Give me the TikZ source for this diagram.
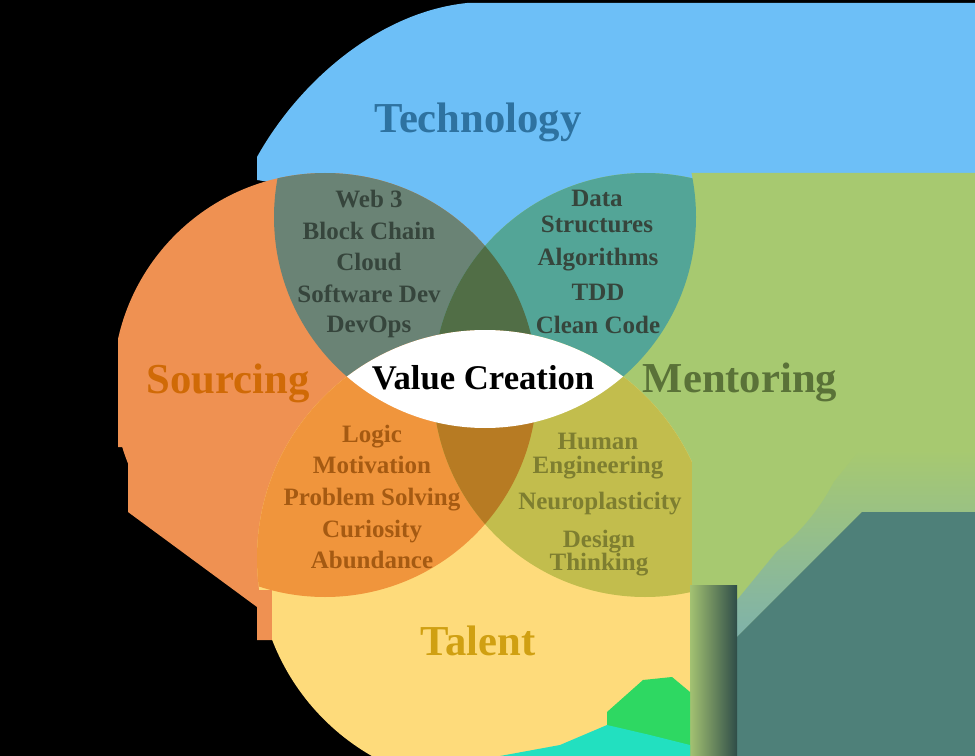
\documentclass[tikz,border=0pt]{standalone}
\usepackage{fontspec}
\setmainfont{Liberation Serif}
\definecolor{techblue}{HTML}{6DBFF7}
\definecolor{srcorange}{HTML}{EF9152}
\definecolor{mentgreen}{HTML}{A7C970}
\definecolor{talyellow}{HTML}{FEDB7B}
\definecolor{techsrc}{HTML}{6A8375}
\definecolor{techment}{HTML}{53A597}
\definecolor{srctal}{HTML}{F0953C}
\definecolor{menttal}{HTML}{C2BD4D}
\definecolor{topmix}{HTML}{516E46}
\definecolor{botmix}{HTML}{B77B23}
\definecolor{techtext}{HTML}{2E72A0}
\definecolor{srctext}{HTML}{D06A06}
\definecolor{menttext}{HTML}{5A7238}
\definecolor{taltext}{HTML}{D0A012}
\definecolor{upptext}{HTML}{36453C}
\definecolor{lowltext}{HTML}{A55A12}
\definecolor{lowrtext}{HTML}{7E7E30}
\definecolor{artteal}{HTML}{4E8079}
\definecolor{artlight}{HTML}{7FB2AA}
\definecolor{artgreen}{HTML}{2ED862}
\definecolor{artcyan}{HTML}{22E0C0}
\def\techcircle{(485,217) circle[radius=211]}
\def\srccircle{(325,385) circle[radius=212]}
\def\mentcircle{(645,385) circle[radius=212]}
\def\talcircle{(485,558) circle[radius=228]}
\begin{document}
\begin{tikzpicture}[x=0.75pt,y=-0.75pt,
  title/.style={font=\bfseries\fontsize{32}{38}\selectfont,anchor=base},
  item/.style={font=\bfseries\fontsize{18.75}{22}\selectfont,anchor=base,inner sep=0pt},
  pair/.style={font=\bfseries\fontsize{18.75}{#1}\selectfont,align=center,
    anchor=north,inner sep=0pt}]
\useasboundingbox (0,0) rectangle (975,756);
\fill[black] (0,0) rectangle (975,756);
% outer parts of the blobs
\fill[techblue] (257,180) -- (257,157) .. controls (300,80) and (380,12) .. (467,3)
  -- (975,3) -- (975,173) -- (680,173) -- (485,217) -- cycle;
\fill[srcorange] (118,350) -- (118,447) -- (128,447) -- (128,512) -- (257,607)
  -- (257,640) -- (272,640) -- (272,560) -- (200,400) -- cycle;
\fill[mentgreen] (680,173) -- (975,173) -- (975,512) -- (862,512) -- (737,637)
  -- (737,585) -- (690,585) -- (645,385) -- cycle;
\shade[top color=mentgreen,bottom color=artlight] (862,512) -- (975,512)
  -- (975,450) -- (860,450) -- (737,600) -- (737,637) -- cycle;
\fill[artteal] (737,756) -- (737,637) -- (862,512) -- (975,512) -- (975,756) -- cycle;
% circles
\fill[techblue] \techcircle;
\fill[srcorange] \srccircle;
\fill[mentgreen] \mentcircle;
\fill[talyellow] \talcircle;
\begin{scope}
  \clip \techcircle;
  \fill[techsrc] \srccircle;
  \fill[techment] \mentcircle;
\end{scope}
\begin{scope}
  \clip \talcircle;
  \fill[srctal] \srccircle;
  \fill[menttal] \mentcircle;
\end{scope}
\begin{scope}
  \clip \srccircle;
  \clip \mentcircle;
  \fill[topmix] \techcircle;
  \fill[botmix] \talcircle;
\end{scope}
\begin{scope}
  \clip \techcircle;
  \fill[white] \talcircle;
\end{scope}
% cut edges
\fill[srcorange] (257,590) rectangle (272,640);
\fill[mentgreen] (692,440) rectangle (737,585);
\fill[talyellow] (600,600) -- (690,600) -- (690,700) -- (600,745) -- cycle;
\shade[left color=mentgreen!90!gray,right color=artteal!60!black] (690,585) rectangle (737,756);
\fill[artgreen] (607,712) -- (643,680) -- (672,677) -- (690,692) -- (690,756)
  -- (600,756) -- (607,740) -- cycle;
\fill[artcyan] (500,756) -- (560,745) -- (607,725) -- (650,735) -- (690,745)
  -- (690,756) -- cycle;
\fill[black] (0,0) rectangle (118,756);
% labels
\node[title,techtext] (technology) at (478,133) {Technology};
\node[title,srctext] (sourcing) at (228,393) {Sourcing};
\node[title,menttext] (mentoring) at (740,392) {Mentoring};
\node[title,taltext] (talent) at (478,655) {Talent};
\node[title,font=\bfseries\fontsize{26}{30}\selectfont] (value) at (483,389) {Value Creation};
% technology and sourcing
\node[item,upptext] (web) at (369,208) {Web 3};
\node[item,upptext] (blockchain) at (369,239) {Block Chain};
\node[item,upptext] (cloud) at (369,270) {Cloud};
\node[item,upptext] (softdev) at (369,302) {Software Dev};
\node[item,upptext] (devops) at (369,332) {DevOps};
% technology and mentoring
\node[pair=19.5,upptext] (datastruct) at (597,190) {Data\\Structures};
\node[item,upptext] (algorithms) at (598,266) {Algorithms};
\node[item,upptext] (tdd) at (598,300) {TDD};
\node[item,upptext] (cleancode) at (598,333) {Clean Code};
% sourcing and talent
\node[item,lowltext] (logic) at (372,442) {Logic};
\node[item,lowltext] (motivation) at (372,473) {Motivation};
\node[item,lowltext] (problem) at (372,505) {Problem Solving};
\node[item,lowltext] (curiosity) at (372,537) {Curiosity};
\node[item,lowltext] (abundance) at (372,568) {Abundance};
% mentoring and talent
\node[pair=18,lowrtext] (humaneng) at (598,433) {Human\\Engineering};
\node[item,lowrtext] (neuro) at (600,509) {Neuroplasticity};
\node[pair=17.25,lowrtext] (designthink) at (599,530) {Design\\Thinking};
\end{tikzpicture}
\end{document}
